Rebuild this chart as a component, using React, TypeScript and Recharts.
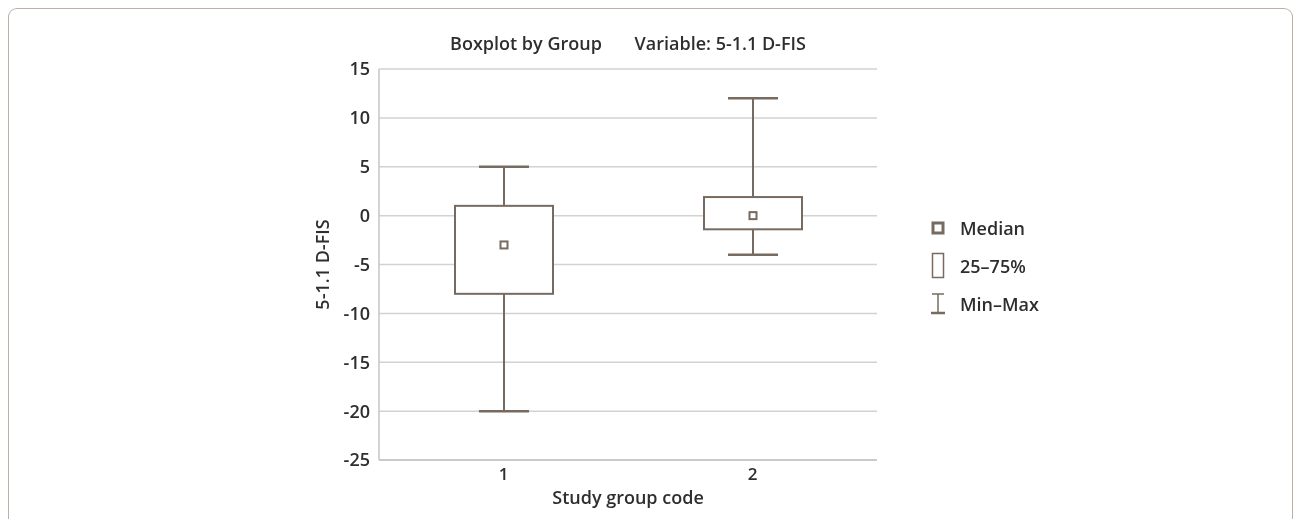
import { ComposedChart, Bar, XAxis, YAxis, CartesianGrid } from "recharts";

const groups = ["1", "2"];
const mins = [-20, -4];
const q1s = [-8, -1.4];
const medians = [-3, 0];
const q3s = [1, 1.9];
const maxs = [5, 12];
const yTicks = [-25, -20, -15, -10, -5, 0, 5, 10, 15];

const data = groups.map((g, i) => ({
  group: g,
  range: [mins[i], maxs[i]],
  min: mins[i],
  q1: q1s[i],
  median: medians[i],
  q3: q3s[i],
  max: maxs[i],
}));

const BOX = "#776b61";
const FONT = "'Open Sans', 'Noto Sans', sans-serif";
const TEXT = "#2e2e2e";

function BoxShape(props: any) {
  const { x, y, width, height, payload } = props;
  const k = height / (payload.max - payload.min);
  const py = (v: number) => y + (payload.max - v) * k;
  const cx = x + width / 2;
  const cap = 25;
  return (
    <g>
      <line x1={cx} x2={cx} y1={py(payload.max)} y2={py(payload.min)} stroke={BOX} strokeWidth={2} />
      <line x1={cx - cap} x2={cx + cap} y1={py(payload.max)} y2={py(payload.max)} stroke={BOX} strokeWidth={2.5} />
      <line x1={cx - cap} x2={cx + cap} y1={py(payload.min)} y2={py(payload.min)} stroke={BOX} strokeWidth={2.5} />
      <rect x={x} y={py(payload.q3)} width={width} height={py(payload.q1) - py(payload.q3)} fill="#fff" stroke={BOX} strokeWidth={2} />
      <rect x={cx - 3.5} y={py(payload.median) - 3.5} width={7} height={7} fill="#fff" stroke={BOX} strokeWidth={2} />
    </g>
  );
}

function LegendBox() {
  const row = { display: "flex", alignItems: "center", height: 38 } as const;
  const label = { marginLeft: 15, fontSize: 18, fontWeight: 600, color: TEXT, fontFamily: FONT } as const;
  return (
    <div style={{ position: "fixed", left: 931, top: 209 }}>
      <div style={row}>
        <svg width={14} height={26}>
          <rect x={2} y={8} width={10} height={10} fill="#fff" stroke={BOX} strokeWidth={3} />
        </svg>
        <span style={label}>Median</span>
      </div>
      <div style={row}>
        <svg width={14} height={28}>
          <rect x={1.5} y={1.5} width={11} height={24} fill="#fff" stroke={BOX} strokeWidth={1.5} />
        </svg>
        <span style={label}>25–75%</span>
      </div>
      <div style={row}>
        <svg width={14} height={24}>
          <line x1={7} x2={7} y1={2} y2={21} stroke={BOX} strokeWidth={1.5} />
          <line x1={1} x2={13} y1={2} y2={2} stroke={BOX} strokeWidth={1.5} />
          <line x1={0} x2={14} y1={21} y2={21} stroke={BOX} strokeWidth={2.5} />
        </svg>
        <span style={label}>Min–Max</span>
      </div>
    </div>
  );
}

export default function App() {
  return (
    <div>
      <style>{"body{overflow:hidden}"}</style>
      <div
        style={{
          position: "fixed",
          left: 8,
          top: 8,
          width: 1283,
          height: 540,
          border: "1.5px solid #bcafa7",
          borderBottom: "none",
          borderRadius: "9px 9px 0 0",
        }}
      />
      <div
        style={{
          position: "fixed",
          left: 0,
          top: 31,
          width: 1256,
          textAlign: "center",
          fontFamily: FONT,
          fontWeight: 600,
          fontSize: 18,
          color: TEXT,
          whiteSpace: "pre",
        }}
      >
        {"Boxplot by Group       Variable: 5-1.1 D-FIS"}
      </div>
      <div style={{ position: "fixed", left: 0, top: 0 }}>
        <ComposedChart
          width={1295}
          height={519}
          data={data}
          margin={{ top: 69, right: 418, bottom: 9, left: 319 }}
          barCategoryGap={0}
        >
          <CartesianGrid vertical={false} stroke="#d2d2d2" strokeWidth={1.5} />
          <XAxis
            dataKey="group"
            height={50}
            tickLine={false}
            axisLine={{ stroke: "#c4c4c4", strokeWidth: 1.5 }}
            tick={{ fill: TEXT, fontSize: 17, fontWeight: 600, fontFamily: FONT }}
            tickMargin={2}
            label={{
              value: "Study group code",
              position: "insideBottom",
              offset: 6,
              style: { fill: TEXT, fontSize: 18, fontWeight: 600, fontFamily: FONT },
            }}
          />
          <YAxis
            type="number"
            domain={[-25, 15]}
            ticks={yTicks}
            interval={0}
            width={60}
            tickLine={false}
            axisLine={{ stroke: "#c4c4c4", strokeWidth: 1.5 }}
            tick={{ fill: TEXT, fontSize: 18, fontWeight: 600, fontFamily: FONT }}
            tickMargin={3}
            label={{
              value: "5-1.1 D-FIS",
              angle: -90,
              position: "insideLeft",
              offset: 4,
              style: { textAnchor: "middle", fill: TEXT, fontSize: 18, fontWeight: 600, fontFamily: FONT },
            }}
          />
          <YAxis
            yAxisId="right"
            orientation="right"
            width={0}
            domain={[-25, 15]}
            tick={false}
            tickLine={false}
            axisLine={{ stroke: "#c4c4c4", strokeWidth: 1.5 }}
          />
          <Bar dataKey="range" barSize={98} shape={BoxShape} isAnimationActive={false} />
        </ComposedChart>
      </div>
      <LegendBox />
    </div>
  );
}
